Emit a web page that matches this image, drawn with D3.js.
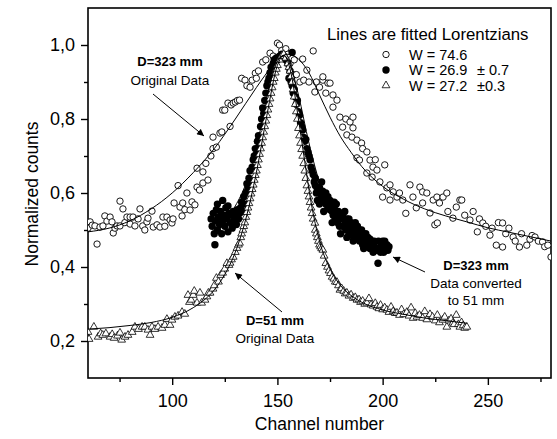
<!DOCTYPE html>
<html><head><meta charset="utf-8">
<script src="https://cdn.jsdelivr.net/npm/d3@7"></script>
<style>body{margin:0;background:#fff}svg{display:block;font-family:"Liberation Sans",Arial,sans-serif}</style>
</head><body><svg id="c" width="557" height="439"></svg>
<script>
// ---- data ----
const xTicks = [100,150,200,250];
const xMinor = [75,125,175,225,275];
const yTicks = [0.2,0.4,0.6,0.8,1.0];
const yMinor = [0.3,0.5,0.7,0.9];
const yTickLabels = ["0,2","0,4","0,6","0,8","1,0"];

// D=323 mm original data (open circles)
const open323 = [[60,0.505],[61,0.522],[62,0.513],[63.3,0.511],[64.3,0.462],[65.7,0.508],[67.1,0.511],[68,0.538],[69,0.524],[70.5,0.535],[71.4,0.522],[72,0.492],[72.8,0.505],[73.8,0.511],[75.2,0.511],[75.2,0.578],[76.6,0.557],[77.5,0.52],[78.5,0.535],[80,0.535],[80,0.516],[81.4,0.535],[82.3,0.511],[83.8,0.53],[84.7,0.557],[86,0.511],[87,0.5],[88,0.522],[88.5,0.532],[90.4,0.551],[91,0.508],[92.8,0.514],[94.2,0.508],[95.6,0.535],[96.5,0.51],[97.5,0.535],[99,0.527],[99.9,0.519],[100.4,0.53],[100.9,0.573],[102.8,0.62],[103.7,0.562],[104.7,0.538],[105,0.573],[106,0.555],[107,0.6],[108.5,0.554],[109.4,0.576],[110.8,0.568],[111.8,0.616],[111.8,0.667],[113,0.608],[114.6,0.627],[114.6,0.657],[116,0.68],[117,0.635],[118.4,0.70],[119.4,0.72],[119.4,0.751],[121,0.724],[122.7,0.762],[123.6,0.765],[124,0.824],[125,0.824],[126.5,0.843],[127.5,0.78],[128,0.838],[129,0.843],[130,0.846],[131,0.85],[132,0.851],[133,0.91],[134.6,0.905],[135.5,0.89],[137,0.886],[138,0.905],[139.5,0.924],[140,0.91],[141,0.93],[143,0.954],[144.5,0.96],[146.5,0.978],[148,0.97],[150,1.005],[151,1.0],[152,0.985],[153,0.97],[154,0.99],[155,0.975],[156,0.95],[157.4,0.92],[158,0.96],[159,0.92],[160.7,0.9],[162,0.962],[162.5,0.905],[164,0.932],[165,0.9],[167,0.984],[167.8,0.873],[168.5,0.9],[170,0.886],[171.6,0.905],[171.6,0.914],[173,0.87],[174,0.897],[175,0.897],[176.4,0.865],[176.4,0.832],[178.3,0.851],[179.7,0.805],[181,0.778],[182.5,0.80],[183,0.757],[184.5,0.792],[185.4,0.751],[185.9,0.805],[185.9,0.776],[187.8,0.743],[187.8,0.695],[189,0.689],[190,0.735],[190.5,0.72],[192.5,0.711],[192.5,0.654],[194,0.689],[195,0.643],[195.4,0.67],[196.5,0.69],[197.3,0.662],[198.7,0.63],[200,0.589],[201,0.676],[202,0.614],[203.5,0.581],[203.5,0.622],[205,0.603],[206.8,0.589],[208,0.6],[209.6,0.581],[211,0.545],[213,0.622],[214.4,0.589],[216,0.56],[217.7,0.616],[219,0.573],[219,0.603],[221,0.6],[222.5,0.546],[224,0.581],[224.8,0.514],[225.8,0.589],[226,0.519],[227,0.573],[228.7,0.589],[230.5,0.6],[231,0.55],[233.4,0.532],[235,0.562],[236.7,0.581],[237.6,0.581],[239,0.54],[241.5,0.527],[243,0.55],[245,0.495],[246,0.53],[247.6,0.519],[249,0.51],[251,0.486],[252,0.505],[254,0.459],[255,0.52],[257,0.519],[257,0.454],[258.5,0.49],[260,0.505],[262,0.481],[263,0.47],[265,0.454],[266,0.49],[268.5,0.459],[270,0.475],[271,0.485],[272.4,0.481],[274,0.47],[276,0.468],[277,0.455],[278.5,0.459],[280,0.427]];

// D=323 mm data converted to 51 mm (filled circles)
const filled323 = [[118.5,0.53],[119,0.51],[119.5,0.545],[120,0.49],[120.3,0.46],[120.5,0.525],[121,0.555],[121.5,0.50],[121.5,0.57],[122,0.535],[122.5,0.515],[123,0.55],[123.5,0.49],[124,0.525],[124,0.58],[124.5,0.54],[125,0.51],[125.5,0.56],[126,0.53],[126.5,0.495],[126.5,0.565],[127,0.545],[127.5,0.52],[128,0.54],[128.5,0.505],[129,0.55],[129.5,0.525],[130,0.535],[130.5,0.515],[131,0.555],[131.5,0.53],[132,0.545],[132.5,0.56],[133,0.575],[133.5,0.55],[134,0.59],[134.5,0.57],[135,0.6],[135.5,0.625],[136,0.61],[136.5,0.64],[137,0.66],[137.5,0.63],[138,0.67],[138.5,0.69],[139,0.7],[139.5,0.72],[140,0.705],[140.5,0.74],[141,0.755],[141.5,0.73],[142,0.78],[142.5,0.8],[143,0.83],[143.5,0.815],[144,0.85],[144.5,0.87],[145,0.89],[145.5,0.9],[146,0.91],[146.5,0.925],[147,0.94],[147.5,0.93],[148,0.95],[148.5,0.96],[149,0.955],[149.5,0.965],[150,0.96],[151,0.97],[152,0.975],[153,0.97],[154,0.96],[155,0.95],[156,0.93],[157,0.98],[155.5,0.91],[156.5,0.9],[157,0.89],[157.5,0.87],[158,0.88],[158.5,0.86],[159,0.84],[159.5,0.85],[160,0.82],[160.5,0.81],[161,0.79],[161.5,0.78],[162,0.77],[162.5,0.75],[163,0.74],[163.5,0.745],[164,0.72],[164.5,0.71],[165,0.7],[165.5,0.69],[166,0.67],[166.5,0.66],[167,0.65],[167.5,0.63],[168,0.62],[168,0.64],[168.5,0.6],[169,0.61],[169,0.58],[169.5,0.6],[170,0.615],[170,0.57],[170.5,0.6],[171,0.59],[171,0.63],[171.5,0.605],[172,0.58],[172,0.55],[172.5,0.59],[173,0.57],[173,0.6],[173.5,0.585],[174,0.56],[174,0.59],[174.5,0.575],[175,0.555],[175,0.58],[175.5,0.57],[176,0.55],[176,0.52],[176.5,0.54],[177,0.56],[177,0.575],[177.5,0.53],[178,0.545],[178,0.57],[178.5,0.52],[179,0.535],[179,0.55],[179.5,0.51],[180,0.53],[180,0.49],[181,0.51],[181,0.54],[182,0.525],[182,0.55],[182.5,0.5],[183,0.53],[183,0.48],[183.5,0.51],[184,0.495],[184,0.53],[184.5,0.515],[185,0.5],[185,0.52],[185.5,0.485],[186,0.505],[186,0.47],[186.5,0.49],[187,0.5],[187,0.52],[188,0.48],[188,0.51],[188.5,0.495],[189,0.47],[189,0.5],[189.5,0.49],[190,0.475],[190,0.5],[190.5,0.46],[191,0.48],[191,0.45],[191.5,0.465],[192,0.47],[192,0.49],[193,0.455],[193,0.48],[193.5,0.465],[194,0.45],[194,0.475],[195,0.46],[195.5,0.44],[196,0.455],[196,0.47],[197,0.445],[197.8,0.41],[198,0.45],[198,0.47],[199,0.44],[199.5,0.465],[200,0.455],[200,0.47],[200.5,0.44],[201,0.45],[201,0.47],[202,0.46],[202.5,0.445],[203,0.455]];

// D=51 mm original data (open triangles)
const tri51 = [[60,0.224],[60.5,0.205],[62.8,0.238],[64.8,0.211],[66,0.22],[67,0.216],[68.5,0.22],[70.5,0.211],[71.5,0.218],[72.4,0.208],[74,0.214],[75.2,0.222],[76,0.203],[77.6,0.211],[79,0.216],[81,0.224],[82.3,0.238],[84,0.232],[85.7,0.238],[87,0.238],[88.5,0.23],[89.5,0.216],[90.4,0.238],[91.8,0.232],[93.3,0.238],[95.2,0.235],[96.5,0.243],[97.5,0.259],[99,0.243],[99.9,0.257],[101.3,0.265],[102.8,0.268],[104.7,0.278],[106,0.273],[107.5,0.324],[108.2,0.305],[109,0.311],[110,0.324],[110.5,0.335],[111.8,0.303],[113.2,0.33],[114,0.303],[115.6,0.311],[116.5,0.32],[117.2,0.33],[118,0.33],[119.4,0.341],[120,0.35],[121,0.37],[122,0.36],[123,0.378],[124,0.384],[125,0.395],[126,0.41],[127,0.405],[127.5,0.411],[128.2,0.42],[129,0.427],[130,0.44],[130.8,0.451],[131.5,0.46],[132,0.465],[132.6,0.48],[133,0.49],[133.6,0.5],[134,0.51],[134.5,0.52],[135,0.535],[135.5,0.548],[136,0.56],[136.5,0.572],[137,0.585],[137.5,0.598],[138,0.61],[138.5,0.622],[139,0.635],[139.5,0.648],[140,0.66],[140.5,0.675],[141,0.69],[141.5,0.705],[142,0.72],[142.5,0.735],[143,0.75],[143.5,0.765],[144,0.78],[144.5,0.795],[145,0.81],[145.5,0.825],[146,0.84],[146.5,0.855],[147,0.87],[147.5,0.885],[148,0.9],[148.5,0.91],[149,0.925],[149.5,0.935],[150,0.945],[151,0.96],[152,0.97],[153,0.975],[154,0.965],[155,0.95],[155.5,0.94],[156,0.93],[156.5,0.915],[157,0.9],[157.5,0.88],[158,0.86],[158.5,0.84],[159,0.82],[159.5,0.8],[160,0.775],[160.5,0.755],[161,0.735],[161.5,0.718],[162,0.70],[162.5,0.68],[163,0.66],[163.5,0.64],[164,0.62],[164.5,0.605],[165,0.59],[165.5,0.575],[166,0.56],[166.5,0.545],[167,0.53],[167.8,0.519],[168,0.5],[168.5,0.49],[169,0.48],[169.5,0.47],[170,0.46],[170.5,0.455],[171,0.45],[171.6,0.446],[172.2,0.43],[173,0.41],[173.8,0.4],[174.5,0.39],[175.2,0.383],[176,0.373],[176.8,0.368],[177.5,0.36],[178.3,0.359],[179,0.35],[179.7,0.338],[180.5,0.342],[181.5,0.335],[182.2,0.328],[183,0.33],[184,0.322],[185,0.325],[186,0.316],[187,0.318],[187.8,0.311],[188.8,0.312],[189.5,0.305],[190.5,0.308],[191.5,0.3],[192.5,0.303],[193.5,0.315],[194.5,0.298],[195.5,0.295],[196.5,0.302],[197.3,0.292],[198.2,0.288],[199,0.297],[200,0.285],[201,0.29],[202,0.284],[203,0.278],[204,0.292],[205,0.28],[206,0.275],[206.8,0.276],[208,0.27],[209,0.285],[210,0.272],[211.5,0.278],[212.5,0.268],[213.5,0.29],[214.5,0.262],[215.5,0.275],[216.3,0.265],[217.5,0.27],[219,0.262],[220,0.28],[221,0.258],[222.5,0.272],[223.7,0.265],[225,0.255],[226,0.27],[227,0.25],[228.6,0.257],[229.5,0.265],[230.5,0.238],[231.5,0.255],[232.5,0.26],[233.4,0.249],[234,0.245],[235,0.27],[236,0.245],[236.7,0.238],[237.5,0.25],[238.3,0.242],[239,0.235],[240,0.238]];

// fitted Lorentzian lines
const fitOpen323 = [[60,0.495],[70,0.505],[80,0.525],[90,0.557],[100,0.60],[110,0.655],[120,0.72],[130,0.80],[140,0.885],[145,0.925],[150,0.96],[155,0.975],[160,0.962],[165,0.925],[170,0.865],[175,0.805],[180,0.752],[185,0.71],[190,0.672],[200,0.618],[210,0.583],[220,0.557],[230,0.538],[240,0.522],[250,0.506],[260,0.494],[270,0.482],[280,0.47]];
const fitFilled323 = [[119,0.49],[125,0.525],[130,0.565],[135,0.625],[140,0.72],[145,0.86],[150,0.955],[153,0.972],[156,0.948],[160,0.865],[165,0.735],[170,0.63],[175,0.568],[180,0.53],[185,0.502],[190,0.482],[195,0.468],[200,0.456],[203,0.45]];
const fitTri51 = [[60,0.232],[70,0.236],[80,0.242],[90,0.25],[100,0.264],[110,0.29],[115,0.31],[120,0.338],[125,0.38],[130,0.44],[135,0.53],[140,0.655],[145,0.81],[150,0.945],[153,0.972],[156,0.935],[160,0.8],[163,0.685],[166,0.575],[170,0.47],[175,0.395],[180,0.35],[185,0.323],[190,0.305],[200,0.284],[210,0.272],[220,0.262],[230,0.255],[240,0.248]];

const legendTitle = "Lines are fitted Lorentzians";
const legendLabels = ["W = 74.6","W = 26.9","W = 27.2"];
const legendErr = ["","\u00B1 0.7","\u00B10.3"];

// ---- drawing ----
const svg = d3.select("#c");
const x = d3.scaleLinear().domain([60,280]).range([88,551]);
const y = d3.scaleLinear().domain([0.1,1.1]).range([378,8]);

const defs = svg.append("defs");
defs.append("clipPath").attr("id","clip").append("rect")
  .attr("x",88).attr("y",8).attr("width",463).attr("height",370);
defs.append("marker").attr("id","arr").attr("viewBox","0 0 10 10")
  .attr("refX",10).attr("refY",5).attr("markerWidth",9).attr("markerHeight",7)
  .attr("markerUnits","userSpaceOnUse").attr("orient","auto")
  .append("path").attr("d","M0,0L10,5L0,10z").attr("fill","#000");

// axes
const fmt = d => yTickLabels[yTicks.findIndex(v => Math.abs(v-d)<1e-9)];
svg.append("g").attr("transform","translate(0,378)")
  .call(d3.axisBottom(x).tickValues(xTicks).tickSize(7).tickPadding(9).tickFormat(d3.format("d")));
svg.append("g").attr("transform","translate(0,378)")
  .call(d3.axisBottom(x).tickValues(xMinor).tickSize(4).tickFormat(""));
svg.append("g").attr("transform","translate(88,0)")
  .call(d3.axisLeft(y).tickValues(yTicks).tickSize(7).tickPadding(6).tickFormat(fmt));
svg.append("g").attr("transform","translate(88,0)")
  .call(d3.axisLeft(y).tickValues(yMinor).tickSize(4).tickFormat(""));
svg.selectAll(".domain").remove();
svg.selectAll(".tick line").attr("stroke","#000").attr("stroke-width",1.4);
svg.selectAll(".tick text").attr("font-size",18).attr("font-family","Liberation Sans, Arial, sans-serif").attr("fill","#000");

svg.append("rect").attr("x",88).attr("y",8).attr("width",463).attr("height",370)
  .attr("fill","none").attr("stroke","#000").attr("stroke-width",1.6);

// axis titles
svg.append("text").attr("x",(x(60)+x(280))/2).attr("y",430).attr("text-anchor","middle")
  .attr("font-size",17.5).text("Channel number");
svg.append("text").attr("transform","translate(38,194) rotate(-90)").attr("text-anchor","middle")
  .attr("font-size",17.5).text("Normalized counts");

const plot = svg.append("g").attr("clip-path","url(#clip)");
const line = d3.line().x(d=>x(d[0])).y(d=>y(d[1])).curve(d3.curveMonotoneX);

// open circles
plot.append("g").selectAll("circle").data(open323).join("circle")
  .attr("cx",d=>x(d[0])).attr("cy",d=>y(d[1])).attr("r",3.2)
  .attr("fill","#fff").attr("stroke","#000").attr("stroke-width",0.9);
// filled circles
plot.append("g").selectAll("circle").data(filled323).join("circle")
  .attr("cx",d=>x(d[0])).attr("cy",d=>y(d[1])).attr("r",3.7).attr("fill","#000");
// triangles
const triPath = d3.symbol().type(d3.symbolTriangle).size(26);
plot.append("g").selectAll("path").data(tri51).join("path")
  .attr("transform",d=>`translate(${x(d[0])},${y(d[1])})`).attr("d",triPath)
  .attr("fill","#fff").attr("stroke","#000").attr("stroke-width",0.8);

// fitted lines
[fitOpen323, fitFilled323, fitTri51].forEach(f=>{
  plot.append("path").datum(f).attr("d",line).attr("fill","none")
    .attr("stroke","#000").attr("stroke-width",1);
});

// legend
svg.append("text").attr("x",327).attr("y",40).attr("font-size",16.8).text(legendTitle);
const ly = [54.5,70,85.5];
svg.append("circle").attr("cx",386).attr("cy",ly[0]).attr("r",3.2).attr("fill","#fff").attr("stroke","#000").attr("stroke-width",0.9);
svg.append("circle").attr("cx",386).attr("cy",ly[1]).attr("r",3.7).attr("fill","#000");
svg.append("path").attr("transform",`translate(386,${ly[2]})`).attr("d",triPath)
  .attr("fill","#fff").attr("stroke","#000").attr("stroke-width",0.8);
legendLabels.forEach((t,i)=>{
  svg.append("text").attr("x",409).attr("y",ly[i]+5).attr("font-size",14.5).text(t);
  if(legendErr[i]) svg.append("text").attr("x",477).attr("y",ly[i]+5).attr("font-size",14.5).text(legendErr[i]);
});

// annotations
function ann(lines, cx, y0){
  lines.forEach((l,i)=>{
    svg.append("text").attr("x",cx).attr("y",y0[i]).attr("text-anchor","middle")
      .attr("font-size",l.size).attr("font-weight",l.bold?"bold":"normal").text(l.t);
  });
}
ann([{t:"D=323 mm",bold:true,size:13},{t:"Original Data",size:13.5}],170,[66,85]);
ann([{t:"D=51 mm",bold:true,size:13},{t:"Original Data",size:13.5}],275,[325,343]);
ann([{t:"D=323 mm",bold:true,size:13},{t:"Data converted",size:13.5},{t:"to 51 mm",size:13.5}],476,[270,288,305]);

function arrow(x1,y1,x2,y2){
  svg.append("line").attr("x1",x1).attr("y1",y1).attr("x2",x2).attr("y2",y2)
    .attr("stroke","#000").attr("stroke-width",1).attr("marker-end","url(#arr)");
}
arrow(153,94,204,136);
arrow(282,312,235,273);
arrow(425,272,393,257);
</script></body></html>
